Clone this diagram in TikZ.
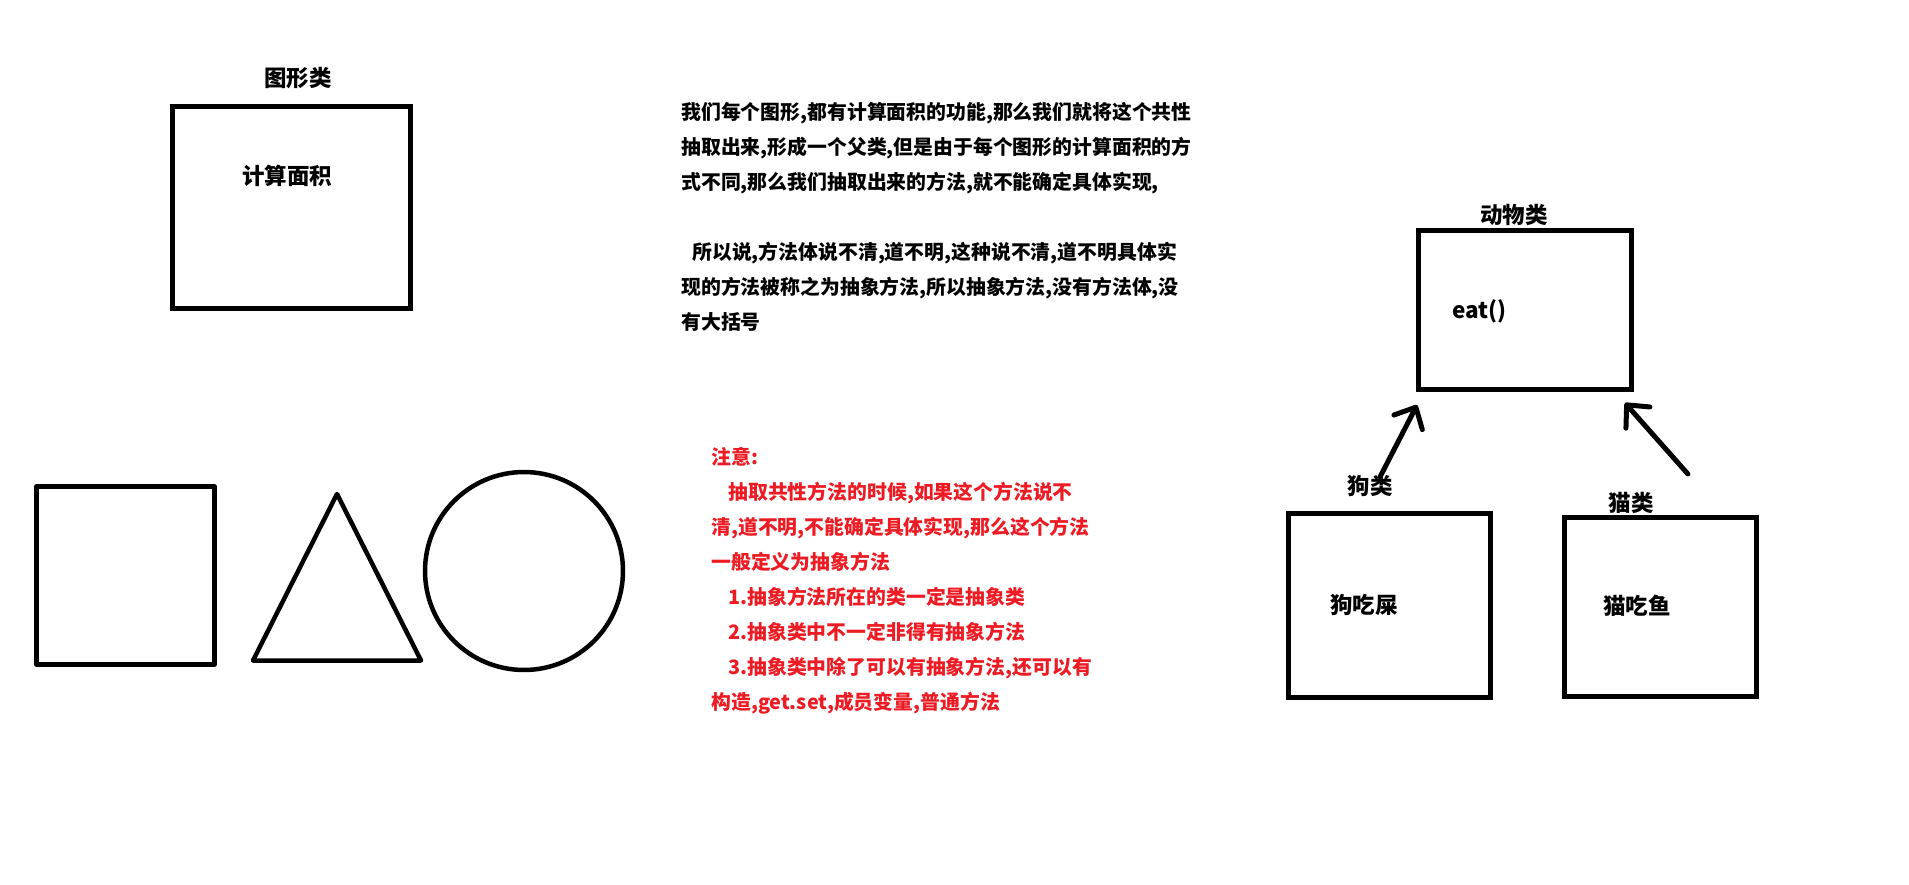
\documentclass[tikz,border=0pt]{standalone}
\usepackage{fontspec}
\setmainfont{Noto Sans CJK SC}
\usetikzlibrary{arrows.meta}
\definecolor{noteRed}{RGB}{237,28,36}
\tikzset{
    font=\bfseries,
    >={Straight Barb[round, length=3.4mm, width=6.4mm]},
    % Shapes
    classBox/.style={draw, line width=0.1cm, inner sep=0pt},
    figShape/.style={draw, line width=0.09cm, line join=round},
    % Labels & text
    lbl/.style={inner sep=0pt, font=\fontsize{12.8}{15}\selectfont\bfseries},
    para/.style={inner sep=0pt, anchor=north west, align=left,
                 font=\fontsize{11.3}{19.9}\selectfont\bfseries},
    % Arrows
    extends/.style={->, line width=0.1cm, line cap=round}
}
\begin{document}
\begin{tikzpicture}[x=0.02cm, y=-0.02cm]
\useasboundingbox (0,0) rectangle (1909,885);

% parent class of the figures
\node[classBox, minimum width=4.76cm, minimum height=4.04cm] (shapeBox) at (291.5,207.5) {};
\node[lbl] (shapeLbl) at (298,78) {图形类};
\node[lbl] (areaTxt) at (287,176) {计算面积};

% the figures themselves
\node[figShape, minimum width=3.56cm, minimum height=3.56cm, inner sep=0pt] (square) at (125.5,575.5) {};
\draw[figShape] (337,494) -- (421,660.5) -- (253,660.5) -- cycle;
\node[figShape, circle, minimum size=3.96cm, inner sep=0pt] (round) at (524,571) {};

% explanation
\node[para] (descTxt) at (681,102) {%
我们每个图形,都有计算面积的功能,那么我们就将这个共性\\
抽取出来,形成一个父类,但是由于每个图形的计算面积的方\\
式不同,那么我们抽取出来的方法,就不能确定具体实现,\\[0.7cm]
\hspace*{0.22cm}所以说,方法体说不清,道不明,这种说不清,道不明具体实\\
现的方法被称之为抽象方法,所以抽象方法,没有方法体,没\\
有大括号};

\node[para, text=noteRed] (noteTxt) at (711,447) {%
注意:\\
\hspace*{0.34cm}抽取共性方法的时候,如果这个方法说不\\
清,道不明,不能确定具体实现,那么这个方法\\
一般定义为抽象方法\\
\hspace*{0.34cm}1.抽象方法所在的类一定是抽象类\\
\hspace*{0.34cm}2.抽象类中不一定非得有抽象方法\\
\hspace*{0.34cm}3.抽象类中除了可以有抽象方法,还可以有\\
构造,get.set,成员变量,普通方法};

% animals
\node[classBox, minimum width=4.26cm, minimum height=3.18cm] (animal) at (1525,310) {};
\node[lbl] (animalLbl) at (1514,215) {动物类};
\node[lbl, anchor=west] (eatTxt) at (1452,311) {eat()};

\node[classBox, minimum width=4.04cm, minimum height=3.68cm] (dog) at (1389.5,605.5) {};
\node[lbl] (dogLbl) at (1370,486) {狗类};
\node[lbl] (dogTxt) at (1364,605) {狗吃屎};

\node[classBox, minimum width=3.84cm, minimum height=3.58cm] (cat) at (1660.5,607) {};
\node[lbl] (catLbl) at (1631,503) {猫类};
\node[lbl] (catTxt) at (1637,606) {猫吃鱼};

\draw[extends] ([shift={(10,2)}]dogLbl.north) -- ([shift={(1,13)}]animal.south west);
\draw[extends] ([shift={(34,-18)}]catLbl.north east) -- ([shift={(-9,11)}]animal.south east);

\end{tikzpicture}
\end{document}
